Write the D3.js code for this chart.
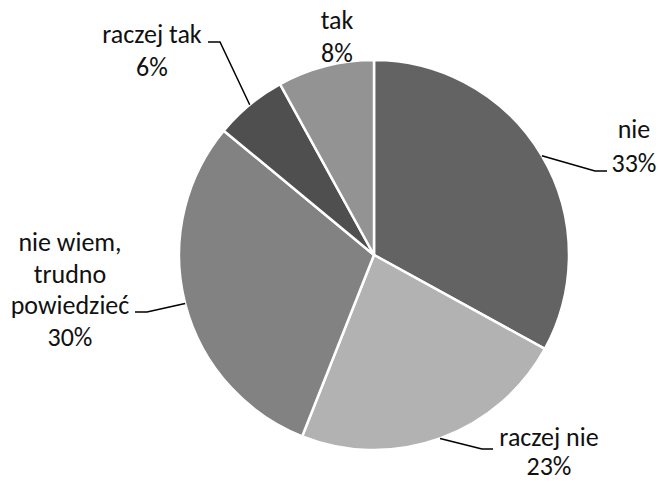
<!DOCTYPE html>
<html><head><meta charset="utf-8">
<script src="https://cdn.jsdelivr.net/npm/d3@7"></script>
<style>body{margin:0;background:#fff}svg{display:block}text{font-family:Carlito,Lato,"Open Sans",sans-serif;fill:#111}</style>
</head><body>
<script>
const categories = ["nie", "raczej nie", "nie wiem, trudno powiedzieć", "raczej tak", "tak"];
const values = [33, 23, 30, 6, 8];
const labelLines = [["nie", "33%"], ["raczej nie", "23%"], ["nie wiem,", "trudno", "powiedzieć", "30%"], ["raczej tak", "6%"], ["tak", "8%"]];
const colors = ["#636363", "#b2b2b2", "#828282", "#4f4f4f", "#939393"];

// layout
const W = 658, H = 483, cx = 374, cy = 255, R = 195, fs = 26;
// label anchor (x center, first baseline, line height) and leader elbow
const labelLayout = [
  {x: 634, y: 138, lh: 34, elbow: [595, 171], end: [607, 171]},
  {x: 549, y: 446, lh: 29, elbow: [482, 449], end: [493, 449]},
  {x: 70, y: 251, lh: 31.5, elbow: [147, 312], end: [135, 312]},
  {x: 152, y: 43, lh: 33, elbow: [220, 42], end: [208, 42]},
  {x: 337, y: 29, lh: 33, elbow: null, end: null}
];

const svg = d3.select("body").append("svg").attr("width", W).attr("height", H);
const pie = d3.pie().sort(null).value(d => d)(values);
const arc = d3.arc().innerRadius(0).outerRadius(R);
const g = svg.append("g").attr("transform", `translate(${cx},${cy})`);
g.selectAll("path").data(pie).join("path")
  .attr("d", arc).attr("fill", (d, i) => colors[i])
  .attr("stroke", "#fff").attr("stroke-width", 2.5).attr("stroke-linejoin", "round");

pie.forEach((d, i) => {
  const L = labelLayout[i];
  if (L.elbow) {
    const a = (d.startAngle + d.endAngle) / 2;
    const sx = cx + R * Math.sin(a), sy = cy - R * Math.cos(a);
    svg.append("polyline")
      .attr("points", [[sx, sy], L.elbow, L.end].map(p => p.join(",")).join(" "))
      .attr("fill", "none").attr("stroke", "#000").attr("stroke-width", 1.5);
  }
  const t = svg.append("text").attr("text-anchor", "middle").attr("font-size", fs);
  labelLines[i].forEach((ln, j) => {
    t.append("tspan").attr("x", L.x).attr("y", L.y + j * L.lh).text(ln);
  });
});
</script>
</body></html>
